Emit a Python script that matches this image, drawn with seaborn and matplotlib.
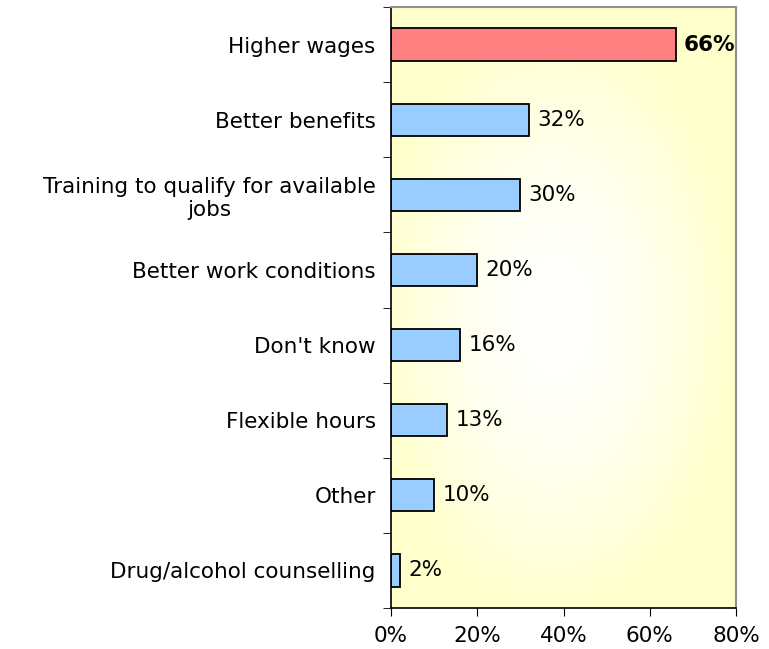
import numpy as np
import pandas as pd
import matplotlib
matplotlib.use("Agg")
import matplotlib.pyplot as plt
import seaborn as sns

# --- Data ---
categories = [
    "Higher wages",
    "Better benefits",
    "Training to qualify for available\njobs",
    "Better work conditions",
    "Don't know",
    "Flexible hours",
    "Other",
    "Drug/alcohol counselling",
]
values = [66, 32, 30, 20, 16, 13, 10, 2]
highlight = "Higher wages"
x_ticks = [0, 20, 40, 60, 80]

sns.set_style("white")
plt.rcParams["font.family"] = ["DejaVu Sans"]
plt.rcParams["text.color"] = "black"
plt.rcParams["xtick.color"] = "black"
plt.rcParams["ytick.color"] = "black"

FS = 15.5

df = pd.DataFrame({"reason": categories, "pct": values})
palette = {c: ("#FF8080" if c == highlight else "#99CCFF") for c in categories}

fig = plt.figure(figsize=(7.69, 6.49), dpi=100)
ax = fig.add_axes([391 / 769, 1 - 608 / 649, 345 / 769, 601 / 649])

# radial background: white centre fading to pale yellow
yy, xx = np.mgrid[-1:1:300j, -1:1:300j]
r = np.sqrt(((xx + 0.05) / 1.05) ** 2 + ((yy - 0.03) / 1.0) ** 2)
r = np.clip(r / 1.0, 0, 1) ** 1.6
white = np.array([1.0, 1.0, 1.0])
yellow = np.array([1.0, 1.0, 0.8])
img = white[None, None, :] * (1 - r[..., None]) + yellow[None, None, :] * r[..., None]
ax.imshow(img, extent=[0, 1, 0, 1], transform=ax.transAxes, aspect="auto", zorder=0)

sns.barplot(
    data=df, x="pct", y="reason", hue="reason", palette=palette, legend=False,
    saturation=1, edgecolor="black", linewidth=1.3, width=0.43, ax=ax, zorder=2,
)

ax.set_xlim(0, 80)
ax.set_ylim(7.5, -0.5)
ax.set_xticks(x_ticks)
ax.set_xticklabels([f"{t}%" for t in x_ticks], fontsize=FS)
ax.set_xlabel("")
ax.set_ylabel("")
for lbl in ax.get_yticklabels():
    lbl.set_fontsize(FS)
    lbl.set_multialignment("center")

ax.tick_params(axis="y", which="major", length=0, pad=11)
ax.set_yticks(np.arange(-0.5, 8, 1), minor=True)
ax.tick_params(axis="y", which="minor", length=6, direction="out", color="black", left=True)
ax.tick_params(axis="x", length=6, direction="out", color="black", bottom=True, pad=7)

for side in ["left", "bottom"]:
    ax.spines[side].set_color("black")
    ax.spines[side].set_linewidth(1.2)
for side in ["top", "right"]:
    ax.spines[side].set_color("#909090")
    ax.spines[side].set_linewidth(1.5)

for i, (c, v) in enumerate(zip(categories, values)):
    ax.annotate(
        f"{v}%", xy=(v, i), xytext=(6, 0), textcoords="offset points",
        va="center", ha="left", fontsize=FS,
        fontweight="bold" if c == highlight else "normal", zorder=3,
        annotation_clip=False,
    )

fig.savefig("out.png", dpi=100)
